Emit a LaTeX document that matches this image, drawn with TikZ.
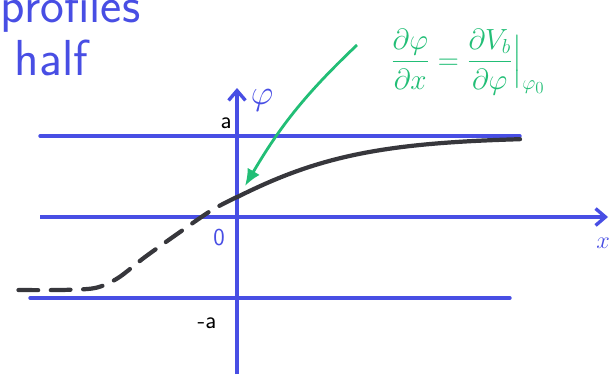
\documentclass[tikz,border=0pt]{standalone}
\usepackage{amsmath,amssymb}
\usepackage{tikz}
\usetikzlibrary{arrows.meta,positioning}
\usepackage{xcolor}
\definecolor{penblue}{RGB}{72,78,228}
\definecolor{pengreen}{RGB}{34,190,118}
\definecolor{penblack}{RGB}{55,55,60}

\begin{document}
\begin{tikzpicture}[
  x=0.025cm,y=-0.025cm,
  font=\sffamily,
  axis/.style={penblue,line width=2.4pt,-{Straight Barb[length=7pt,width=12pt,line width=2.4pt]}},
  level/.style={penblue,line width=2.4pt,line cap=round},
  prof/.style={penblack,line width=3pt,line cap=round},
  lbl/.style={inner sep=1pt,font=\sffamily\LARGE},
  pointer/.style={pengreen,line width=2pt,-{Latex[length=12pt,width=10pt]}}
]
\useasboundingbox (0,0) rectangle (616,374);
% axes
\coordinate(ybot) at (237,374);
\coordinate(ytop) at (237,88);
\coordinate(xleft) at (40,217);
\coordinate(xright) at (608,217);
\draw[axis](ybot)--(ytop);
\draw[axis](xleft)--(xright);
% levels +a and -a
\coordinate(pa1) at (40,136);\coordinate(pa2) at (520,136);
\coordinate(ma1) at (30,298);\coordinate(ma2) at (510,298);
\draw[level](pa1)--(pa2);
\draw[level](ma1)--(ma2);
% labels
\node[lbl,penblue,font=\sffamily\Huge](phi) at (262,100){$\varphi$};
\node[lbl,penblue](xl) at (603,243){$x$};
\node[lbl](al) at (226,123){a};
\node[lbl](mal) at (207,323){-a};
\node[lbl,penblue](zero) at (219,238){0};
% half profile
\draw[prof] plot[domain=237:520,samples=40] (\x,{217-80*tanh((\x-199)/150)});
\draw[prof,dash pattern=on 14pt off 9pt] plot[smooth] coordinates
  {(237,197) (212,210) (180,232) (145,257) (118,278) (95,288) (60,290) (12,290)};
% slope condition
\node[pengreen,font=\huge](cond) at (468,62)
  {$\dfrac{\partial\varphi}{\partial x}=\dfrac{\partial V_b}{\partial\varphi}\Big|_{\varphi_0}$};
\coordinate(tip) at (245,186);
\draw[pointer](357,45) to[bend right=8] (tip);
% title
\node[penblue,font=\fontsize{36}{40}\selectfont\sffamily,anchor=west](t1) at (-4,10){profiles};
\node[penblue,font=\fontsize{36}{40}\selectfont\sffamily,anchor=west](t2) at (10,58){half};
\end{tikzpicture}
\end{document}
